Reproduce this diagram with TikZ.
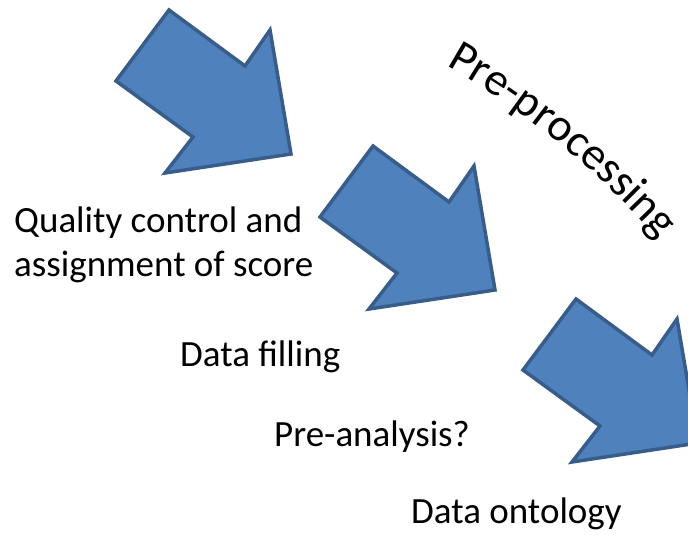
\documentclass[tikz,border=0pt]{standalone}
\usepackage{fontspec}
\setmainfont{Carlito}
\usetikzlibrary{decorations.text}
\definecolor{arrowfill}{RGB}{79,129,189}
\definecolor{arrowline}{RGB}{56,93,138}
\begin{document}
\begin{tikzpicture}[x=1pt,y=-1pt,
  blockarrow/.style={fill=arrowfill, draw=arrowline, line width=3.5pt, line join=miter},
  lbl/.style={font=\fontsize{37}{44}\selectfont, inner sep=0pt, anchor=base west}]
\useasboundingbox (0,0) rectangle (688,535);
\clip (0,0) rectangle (688,535);
\foreach \dx/\dy in {0/0, 204/136, 407/289} {
  \begin{scope}[shift={(\dx,\dy)}]
    \draw[blockarrow] (169,10) -- (245,66) -- (270,30) -- (291,154) -- (165,173) -- (193,137) -- (116,81) -- cycle;
  \end{scope}
}
\node[lbl] (q1) at (14,232) {Quality control and};
\node[lbl] (q2) at (14,276) {assignment of score};
\node[lbl] (df) at (180,366) {Data filling};
\node[lbl] (pa) at (274,446) {Pre-analysis?};
\node[lbl] (do) at (411,523) {Data ontology};
\path[decorate, decoration={text along path, text={|\fontsize{46}{46}\selectfont|Pre-processing}}]
  (446,66) .. controls (533,115) and (612,182) .. (684,268);
\end{tikzpicture}
\end{document}
